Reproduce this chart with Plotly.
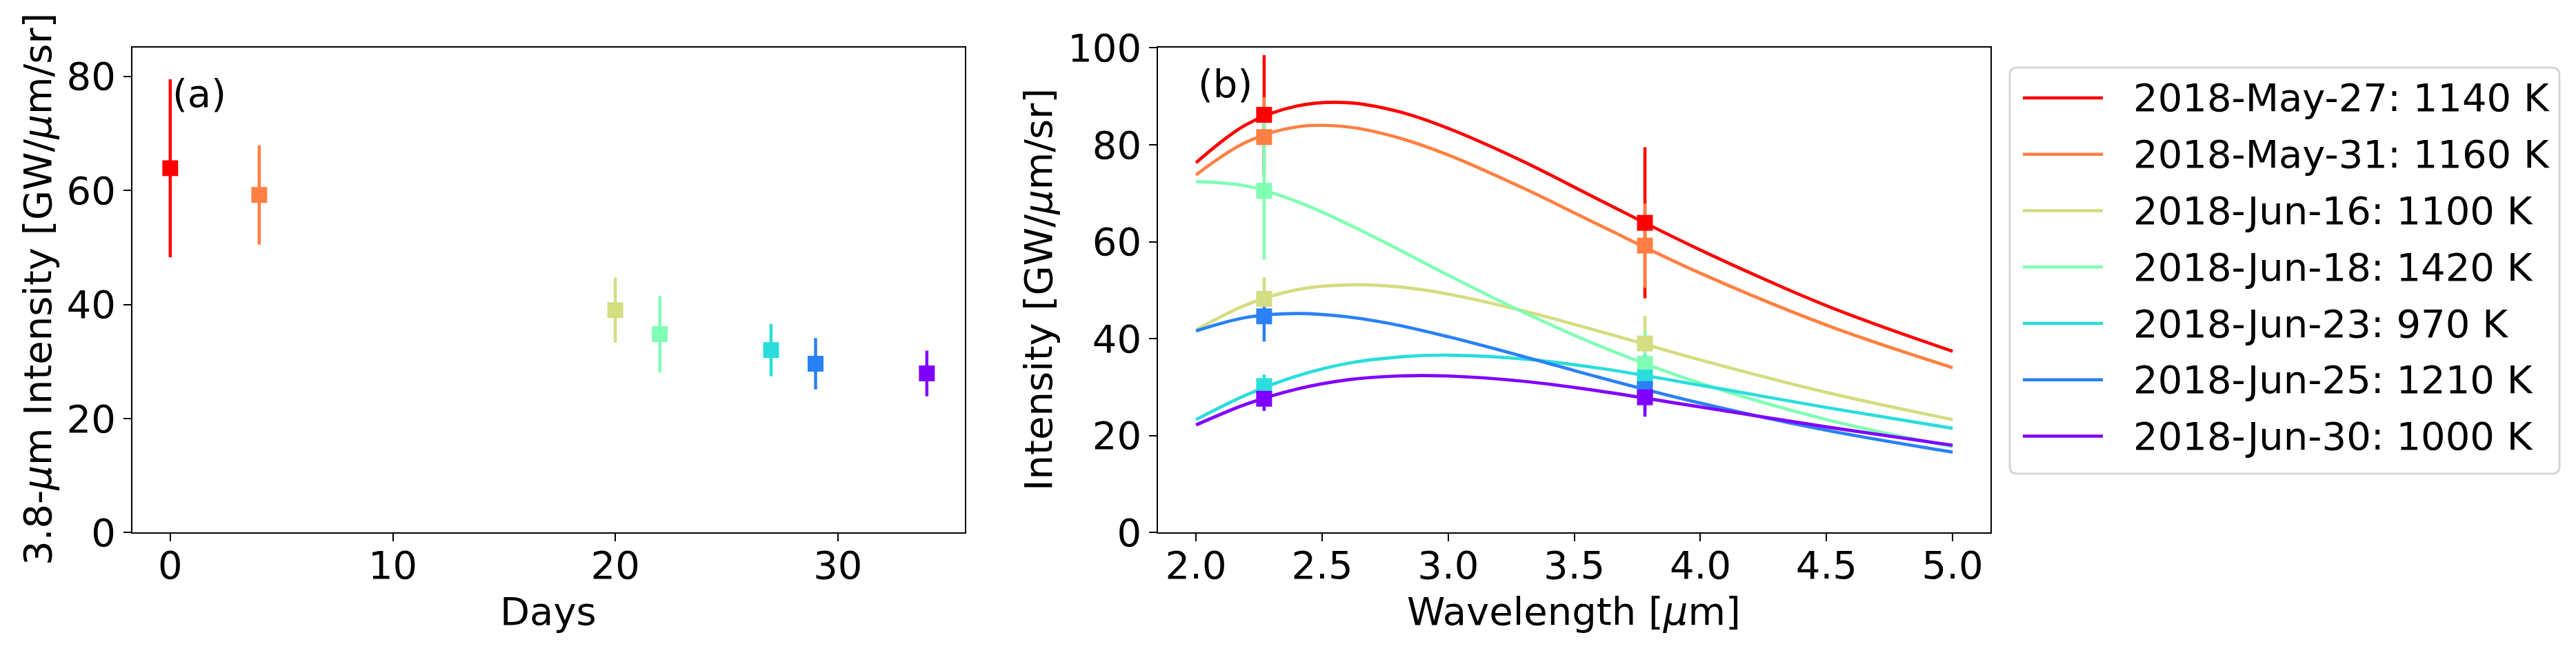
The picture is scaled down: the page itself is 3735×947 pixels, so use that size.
import plotly.graph_objects as go

# ---------------- data ----------------
dates = ["2018-May-27", "2018-May-31", "2018-Jun-16", "2018-Jun-18",
         "2018-Jun-23", "2018-Jun-25", "2018-Jun-30"]
temps_K = [1140, 1160, 1100, 1420, 970, 1210, 1000]
colors = ["#ff0000", "#ff8042", "#d4dd80", "#80ffb4", "#2adddd", "#2a80f6", "#8000ff"]

# panel (a): 3.8-um intensity vs days
days = [0, 4, 20, 22, 27, 29, 34]
i38 = [63.9, 59.2, 39.0, 34.8, 32.0, 29.6, 27.9]
i38_err = [15.6, 8.7, 5.7, 6.7, 4.6, 4.5, 4.0]

# panel (b): observed points at two wavelengths
wl_obs = [2.27, 3.78]
i227 = [86.2, 81.6, 48.2, 70.5, 30.2, 44.6, 27.6]
i227_err = [12.3, 8.2, 4.5, 14.2, 2.4, 5.2, 2.5]

# panel (b): fitted curves
wl_fit = [2.0, 2.2, 2.4, 2.6, 2.8, 3.0, 3.3, 3.6, 4.0, 4.5, 5.0]
fit_may27 = [76.3, 84.2, 88.0, 88.7, 86.9, 83.4, 76.5, 68.6, 58.3, 46.8, 37.4]
fit_may31 = [73.8, 80.6, 83.7, 83.7, 81.5, 77.9, 71.0, 63.4, 53.5, 42.8, 34.0]
fit_jun16 = [41.8, 47.0, 50.1, 51.1, 50.7, 49.2, 45.7, 41.5, 35.6, 28.9, 23.3]
fit_jun18 = [72.4, 71.5, 68.3, 63.7, 58.5, 53.1, 45.4, 38.5, 30.8, 23.3, 17.7]
fit_jun23 = [23.3, 28.4, 32.3, 34.9, 36.2, 36.6, 35.8, 33.9, 30.4, 25.8, 21.5]
fit_jun25 = [41.6, 44.4, 45.2, 44.5, 42.8, 40.4, 36.3, 32.0, 26.7, 21.1, 16.6]
fit_jun30 = [22.2, 26.5, 29.6, 31.5, 32.3, 32.3, 31.2, 29.2, 25.9, 21.8, 18.0]
fits = [fit_may27, fit_may31, fit_jun16, fit_jun18, fit_jun23, fit_jun25, fit_jun30]

xa_ticks = [0, 10, 20, 30]
ya_ticks = [0, 20, 40, 60, 80]
xb_ticks = [2.0, 2.5, 3.0, 3.5, 4.0, 4.5, 5.0]
yb_ticks = [0, 20, 40, 60, 80, 100]

# ---------------- layout geometry ----------------
W, H = 3735, 947
FONT = "DejaVu Sans"
FS = 56


def px(x):
    return x / W


def py(y):
    return 1 - y / H


ydom = [py(772.3), py(69.4)]
xdom_a = [px(192.0), px(1398.7)]
xdom_b = [px(1679.3), px(2886.0)]

fig = go.Figure()

MS = 23
EW = 4.5

# ---- panel (a) ----
for i in range(len(days)):
    fig.add_trace(go.Scatter(
        x=[days[i]], y=[i38[i]], mode="markers", xaxis="x", yaxis="y",
        marker=dict(symbol="square", size=MS, color=colors[i], opacity=0),
        error_y=dict(type="data", array=[i38_err[i]], color=colors[i],
                     thickness=EW, width=0),
        showlegend=False, hoverinfo="skip"))
for i in range(len(days)):
    fig.add_trace(go.Scatter(
        x=[days[i]], y=[i38[i]], mode="markers", xaxis="x", yaxis="y",
        marker=dict(symbol="square", size=MS, color=colors[i], line=dict(width=0)),
        showlegend=False))

# ---- panel (b) ----
for i in range(len(fits)):
    fig.add_trace(go.Scatter(
        x=wl_fit, y=fits[i], mode="lines", xaxis="x2", yaxis="y2",
        line=dict(color=colors[i], width=4.7, shape="spline", smoothing=1.0),
        showlegend=False, name=f"{dates[i]}: {temps_K[i]} K"))
for i in range(len(fits)):
    fig.add_trace(go.Scatter(
        x=wl_obs, y=[i227[i], i38[i]], mode="markers", xaxis="x2", yaxis="y2",
        marker=dict(symbol="square", size=MS, color=colors[i], opacity=0),
        error_y=dict(type="data", array=[i227_err[i], i38_err[i]], color=colors[i],
                     thickness=EW, width=0),
        showlegend=False, hoverinfo="skip"))
for i in range(len(fits)):
    fig.add_trace(go.Scatter(
        x=wl_obs, y=[i227[i], i38[i]], mode="markers", xaxis="x2", yaxis="y2",
        marker=dict(symbol="square", size=MS, color=colors[i], line=dict(width=0)),
        showlegend=False))

axis_style = dict(
    showline=True, mirror=True, linecolor="black", linewidth=2,
    ticks="outside", ticklen=11, tickwidth=2, tickcolor="black",
    showgrid=False, zeroline=False, automargin=False,
    tickfont=dict(family=FONT, size=FS, color="black"),
)
x_style = dict(axis_style, ticklabelstandoff=-14)

fig.update_layout(
    width=W, height=H,
    margin=dict(l=0, r=0, t=0, b=0, pad=0, autoexpand=False),
    paper_bgcolor="white", plot_bgcolor="white",
    font=dict(family=FONT, size=FS, color="black"),
    showlegend=False,
    xaxis=dict(domain=xdom_a, anchor="y", range=[-1.7, 35.7],
               tickvals=xa_ticks, **x_style),
    yaxis=dict(domain=ydom, anchor="x", range=[0, 85],
               tickvals=ya_ticks, **axis_style),
    xaxis2=dict(domain=xdom_b, anchor="y2", range=[1.85, 5.15],
                tickvals=xb_ticks, tickformat=".1f", **x_style),
    yaxis2=dict(domain=ydom, anchor="x2", range=[0, 100],
                tickvals=yb_ticks, **axis_style),
)

ann = []
# axis titles
ann.append(dict(text="Days", x=px(795), y=py(886), xref="paper", yref="paper",
                xanchor="center", yanchor="middle", showarrow=False))
ann.append(dict(text="Wavelength [<i>μ</i>m]", x=px(2282), y=py(886),
                xref="paper", yref="paper", xanchor="center", yanchor="middle",
                showarrow=False))
ann.append(dict(text="3.8-<i>μ</i>m Intensity [GW/<i>μ</i>m/sr]", x=px(54), y=py(420),
                xref="paper", yref="paper", xanchor="center", yanchor="middle",
                textangle=-90, showarrow=False))
ann.append(dict(text="Intensity [GW/<i>μ</i>m/sr]", x=px(1505), y=py(420),
                xref="paper", yref="paper", xanchor="center", yanchor="middle",
                textangle=-90, showarrow=False))
# panel labels
ann.append(dict(text="(a)", x=px(248), y=py(136), xref="paper", yref="paper",
                xanchor="left", yanchor="middle", showarrow=False))
ann.append(dict(text="(b)", x=px(1735), y=py(122), xref="paper", yref="paper",
                xanchor="left", yanchor="middle", showarrow=False))

# ---- legend (drawn by hand to match sample line length) ----
shapes = []
lx0, lx1, ly0, ly1 = 2914, 3711, 98, 687
r = 11
X0, X1 = px(lx0), px(lx1)
Y0, Y1 = py(ly0), py(ly1)
rx, ry = r / W, r / H
path = (f"M {X0+rx},{Y0} L {X1-rx},{Y0} Q {X1},{Y0} {X1},{Y0-ry} "
        f"L {X1},{Y1+ry} Q {X1},{Y1} {X1-rx},{Y1} L {X0+rx},{Y1} "
        f"Q {X0},{Y1} {X0},{Y1+ry} L {X0},{Y0-ry} Q {X0},{Y0} {X0+rx},{Y0} Z")
shapes.append(dict(type="path", path=path, xref="paper", yref="paper",
                   line=dict(color="#d6d6d6", width=3), fillcolor="white", layer="above"))
row0, drow = 142.0, 81.75
for i in range(len(dates)):
    yy = py(row0 + i * drow)
    shapes.append(dict(type="line", xref="paper", yref="paper",
                       x0=px(2933), x1=px(3049), y0=yy, y1=yy,
                       line=dict(color=colors[i], width=4.5), layer="above"))
    ann.append(dict(text=f"{dates[i]}: {temps_K[i]} K", x=px(3091), y=yy,
                    xref="paper", yref="paper", xanchor="left", yanchor="middle",
                    showarrow=False))

fig.update_layout(annotations=ann, shapes=shapes)
fig.write_html("out.html")
